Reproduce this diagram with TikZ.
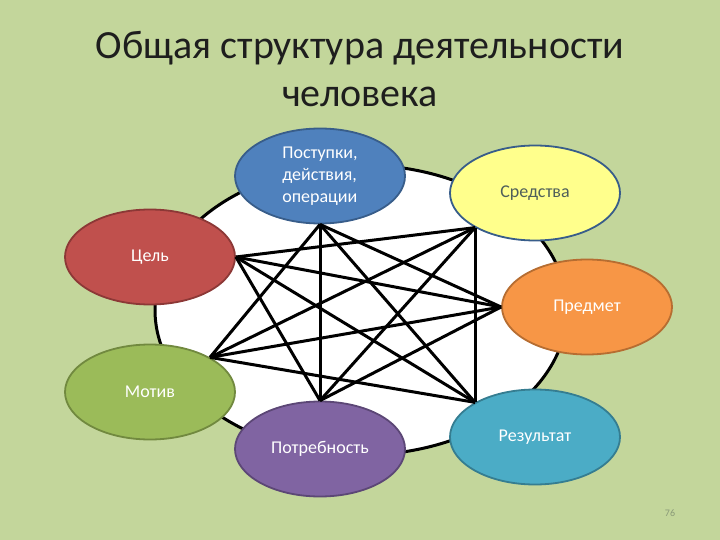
\documentclass[tikz,border=0pt]{standalone}
\usepackage{fontspec}
\setmainfont{Carlito}
\usetikzlibrary{shapes,positioning}

\definecolor{slidegreen}{HTML}{C3D69B}
\definecolor{titlegray}{HTML}{1E1E1E}
\definecolor{numgray}{HTML}{8A9A78}
\definecolor{textgray}{HTML}{4F5F5A}
\definecolor{bluefill}{HTML}{4F81BD}
\definecolor{blueline}{HTML}{385D8A}
\definecolor{yellowfill}{HTML}{FFFF8C}
\definecolor{redfill}{HTML}{C0504D}
\definecolor{redline}{HTML}{8C3836}
\definecolor{orangefill}{HTML}{F79646}
\definecolor{orangeline}{HTML}{B66D31}
\definecolor{greenfill}{HTML}{9BBB59}
\definecolor{greenline}{HTML}{71893F}
\definecolor{purplefill}{HTML}{8064A2}
\definecolor{purpleline}{HTML}{5C4776}
\definecolor{cyanfill}{HTML}{4BACC6}
\definecolor{cyanline}{HTML}{357D91}

\begin{document}
\begin{tikzpicture}
[x=1pt, y=-1pt, line join=round,
every node/.style={font=\fontsize{18}{22}\selectfont},
bubble/.style={ellipse, draw, line width=1.8pt, minimum width=170pt, minimum height=95pt, inner sep=0pt, text=white, align=left},
link/.style={line width=3pt, black}
]
  \fill[slidegreen] (0,0) rectangle (720,540);
  \useasboundingbox (0,0) rectangle (720,540);

  \node[align=center, text=titlegray, font=\fontsize{40}{48}\selectfont] (title) at (360,69) {Общая структура деятельности\\человека};

  \draw[fill=white, line width=3pt] (361,310) ellipse [x radius=206, y radius=145];

  \node[bubble, fill=bluefill, draw=blueline]                 (deeds)  at (320,176) {Поступки,\\действия,\\операции};
  \node[bubble, fill=yellowfill, draw=blueline, text=textgray] (means)  at (535,193) {Средства};
  \node[bubble, fill=redfill, draw=redline]                   (goal)   at (150,257) {Цель};
  \node[bubble, fill=orangefill, draw=orangeline]             (object) at (587,307) {Предмет};
  \node[bubble, fill=greenfill, draw=greenline]               (motive) at (150,392) {Мотив};
  \node[bubble, fill=purplefill, draw=purpleline]             (need)   at (320,449) {Потребность};
  \node[bubble, fill=cyanfill, draw=cyanline]                 (result) at (535,437) {Результат};

  \path[link] (goal.east)  edge (means.210)
              (goal.east)  edge (object.west)
              (goal.east)  edge (result.150)
              (goal.east)  edge (need.north)
              (deeds.south) edge (motive.30)
              (deeds.south) edge (need.north)
              (deeds.south) edge (object.west)
              (deeds.south) edge (result.150)
              (means.210)  edge (motive.30)
              (means.210)  edge (need.north)
              (means.210)  edge (result.150)
              (object.west) edge (motive.30)
              (object.west) edge (need.north)
              (motive.30)  edge (result.150);

  \node[text=numgray, font=\fontsize{10}{12}\selectfont] (pagenum) at (670,513) {76};
\end{tikzpicture}
\end{document}
